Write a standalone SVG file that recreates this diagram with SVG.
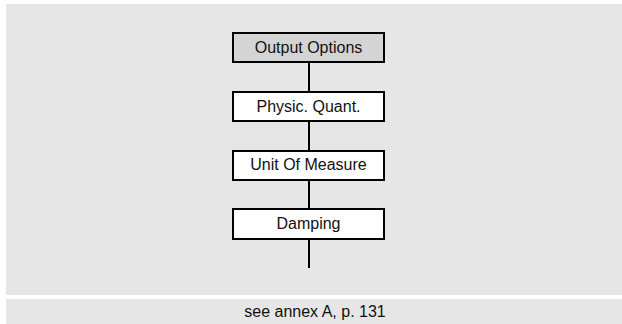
<svg xmlns="http://www.w3.org/2000/svg" width="622" height="324" viewBox="0 0 622 324">
<style>
.box{stroke:#000;stroke-width:2;fill:#fff}
.hd{fill:#d4d4d4}
.t{font-family:"Liberation Sans",Arial,sans-serif;font-size:16px;fill:#111;text-anchor:middle}
.c{stroke:#000;stroke-width:2;fill:none}
</style>
<rect x="0" y="0" width="622" height="324" fill="#fff"/>
<rect x="6" y="4" width="616" height="291" fill="#e6e6e6"/>
<rect x="6" y="299" width="616" height="25" fill="#e6e6e6"/>
<g id="connectors">
<line class="c" x1="309" y1="62" x2="309" y2="92"/>
<line class="c" x1="309" y1="121" x2="309" y2="151"/>
<line class="c" x1="309" y1="180" x2="309" y2="209"/>
<line class="c" x1="309" y1="239" x2="309" y2="268"/>
</g>
<g id="output-options">
<rect class="box hd" x="233" y="33" width="151" height="29"/>
<text class="t" x="308.5" y="53">Output Options</text>
</g>
<g id="physic-quant">
<rect class="box" x="233" y="92" width="151" height="29"/>
<text class="t" x="308.5" y="112">Physic. Quant.</text>
</g>
<g id="unit-of-measure">
<rect class="box" x="233" y="151" width="151" height="29"/>
<text class="t" x="308.5" y="170">Unit Of Measure</text>
</g>
<g id="damping">
<rect class="box" x="233" y="209" width="151" height="30"/>
<text class="t" x="308.5" y="229">Damping</text>
</g>
<text class="t" x="315" y="316.5">see annex A, p. 131</text>
</svg>
